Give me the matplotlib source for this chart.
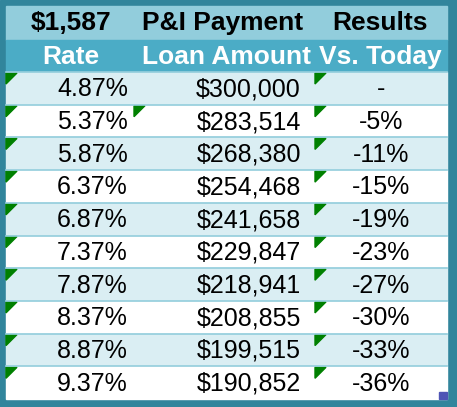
import matplotlib
matplotlib.use("Agg")
import matplotlib.pyplot as plt
from matplotlib.patches import Rectangle, Polygon

payment = "$1,587"
title2 = "P&I Payment"
title3 = "Results"
headers = ["Rate", "Loan Amount", "Vs. Today"]
rates = ["4.87%", "5.37%", "5.87%", "6.37%", "6.87%", "7.37%", "7.87%", "8.37%", "8.87%", "9.37%"]
amounts = ["$300,000", "$283,514", "$268,380", "$254,468", "$241,658", "$229,847", "$218,941", "$208,855", "$199,515", "$190,852"]
results = ["-", "-5%", "-11%", "-15%", "-19%", "-23%", "-27%", "-30%", "-33%", "-36%"]

W, H = 457, 407
fig = plt.figure(figsize=(W/100, H/100), dpi=100)
ax = fig.add_axes([0, 0, 1, 1])
ax.set_xlim(0, W); ax.set_ylim(H, 0); ax.axis("off")
fam = ["Liberation Sans", "DejaVu Sans"]

ax.add_patch(Rectangle((0, 0), W, H, color="#31859C"))
L, R, T, B = 6, 447, 6, 399
ax.add_patch(Rectangle((L, T), R-L, 34, color="#92CDDC"))
ax.add_patch(Rectangle((L, 40), R-L, 32, color="#4BACC6"))
rh = (B - 72) / len(rates)
fs = 18
for i, (r, a, v) in enumerate(zip(rates, amounts, results)):
    y0 = 72 + i*rh
    ax.add_patch(Rectangle((L, y0), R-L, rh, color="#DAEEF3" if i % 2 == 0 else "white"))
    ax.add_line(plt.Line2D([L, R], [y0, y0], color="#92CDDC", lw=1.2))
    yc = y0 + rh/2 + 1
    ax.text(128, yc, r, ha="right", va="center", fontsize=fs, family=fam)
    ax.text(301, yc, a, ha="right", va="center", fontsize=fs, family=fam)
    ax.text(381, yc, v, ha="center", va="center", fontsize=fs, family=fam)
    tri_x = [L, 315] + ([134] if i == 1 else [])
    for tx in tri_x:
        ax.add_patch(Polygon([(tx, y0+1), (tx+11, y0+1), (tx, y0+12)], color="#008000"))
ax.add_patch(Rectangle((R-8, B-7), 8, 7, color="#4F55B5"))

hfs = 19
for x, t in zip([71, 223, 380], [payment, title2, title3]):
    ax.text(x, 23, t, ha="center", va="center", fontsize=hfs, fontweight="bold", family=fam)
for x, t in zip([71, 226, 380], headers):
    ax.text(x, 57, t, ha="center", va="center", fontsize=hfs, fontweight="bold", color="white", family=fam)

fig.savefig("out.png", dpi=100)
